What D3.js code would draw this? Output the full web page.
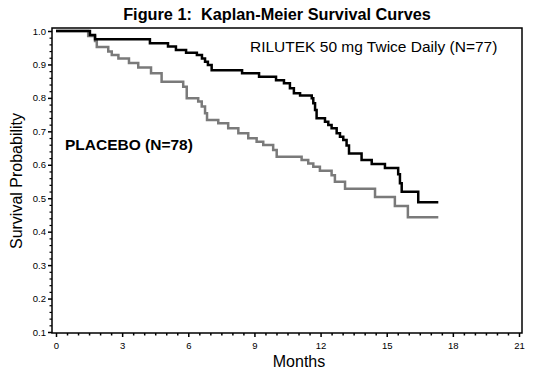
<!DOCTYPE html>
<html><head><meta charset="utf-8">
<script src="https://cdn.jsdelivr.net/npm/d3@7"></script>
<style>body{margin:0;background:#fff}svg{display:block}text{font-family:"Liberation Sans",Arial,sans-serif}</style>
</head><body><svg id="c" width="533" height="376"></svg>
<script>
const rilutekTimes = [0,1.54,1.77,4.26,5.08,5.44,5.90,6.39,6.62,6.76,6.89,7.06,8.44,9.21,9.98,10.34,10.61,10.79,11.07,11.60,11.67,11.75,11.82,12.20,12.35,12.50,12.73,12.88,13.03,13.18,13.29,13.86,14.32,14.92,15.52,15.60,15.68,16.43,17.34];
const rilutekSurv  = [1.0,0.988,0.975,0.963,0.954,0.943,0.935,0.928,0.918,0.908,0.898,0.883,0.874,0.863,0.853,0.844,0.829,0.814,0.807,0.799,0.784,0.764,0.739,0.729,0.719,0.709,0.694,0.684,0.674,0.658,0.634,0.614,0.602,0.590,0.572,0.545,0.519,0.488,0.488];
const placeboTimes = [0,1.46,1.77,1.85,2.37,2.53,2.83,3.31,3.73,4.31,4.79,5.77,5.93,6.45,6.61,6.76,6.85,7.36,7.81,8.27,8.72,9.10,9.40,9.85,10.01,11.14,11.44,11.67,11.97,12.50,12.65,13.11,14.47,15.37,15.96,17.34];
const placeboSurv  = [1.0,0.985,0.970,0.952,0.939,0.928,0.918,0.904,0.891,0.874,0.848,0.833,0.799,0.789,0.774,0.754,0.734,0.724,0.709,0.694,0.679,0.669,0.659,0.644,0.624,0.614,0.604,0.594,0.582,0.569,0.549,0.528,0.504,0.477,0.443,0.443];
const xTicks = [0,3,6,9,12,15,18,21];
const yTicks = [0.1,0.2,0.3,0.4,0.5,0.6,0.7,0.8,0.9,1.0];

const svg = d3.select("#c");
const x = d3.scaleLinear().domain([0,21]).range([56,519]);
const y = d3.scaleLinear().domain([0.1,1.0]).range([332,31]);

// title
svg.append("text").attr("x",277).attr("y",20).attr("text-anchor","middle")
  .style("font-size","16.3px").style("font-weight","bold").style("white-space","pre")
  .text("Figure 1:  Kaplan-Meier Survival Curves");

// frame
svg.append("rect").attr("x",52).attr("y",28).attr("width",470).attr("height",305)
  .attr("fill","none").attr("stroke","#000").attr("stroke-width",1.5);

// x axis
const xAxis = d3.axisBottom(x).tickValues(xTicks).tickSize(4).tickPadding(5).tickFormat(d3.format("d"));
const gx = svg.append("g").attr("transform","translate(0,333)").call(xAxis);
gx.select(".domain").remove();
gx.selectAll("line").attr("stroke-width",1.5);
gx.selectAll("text").style("font-size","9.5px").style("font-family","'Liberation Sans',Arial,sans-serif");
const gxm = svg.append("g").attr("transform","translate(0,333)").call(
  d3.axisBottom(x).tickValues(d3.range(0,21.01,0.5).filter(v=>v%3!==0)).tickSize(2.5).tickFormat(""));
gxm.select(".domain").remove();
gxm.selectAll("line").attr("stroke-width",1.5);

// y axis
const yAxis = d3.axisLeft(y).tickValues(yTicks).tickSize(4).tickPadding(2).tickFormat(d3.format(".1f"));
const gy = svg.append("g").attr("transform","translate(52,0)").call(yAxis);
gy.select(".domain").remove();
gy.selectAll("line").attr("stroke-width",1.5);
gy.selectAll("text").style("font-size","9.5px").style("font-family","'Liberation Sans',Arial,sans-serif");
const gym = svg.append("g").attr("transform","translate(52,0)").call(
  d3.axisLeft(y).tickValues(d3.range(10,101,2).filter(v=>v%10!==0).map(v=>v/100)).tickSize(2.5).tickFormat(""));
gym.select(".domain").remove();
gym.selectAll("line").attr("stroke-width",1.2);

// axis titles
svg.append("text").attr("transform","translate(22,181) rotate(-90)").attr("text-anchor","middle")
  .style("font-size","16px").text("Survival Probability");
svg.append("text").attr("x",299).attr("y",367).attr("text-anchor","middle")
  .style("font-size","16px").text("Months");

// curves
const line = d3.line().x(d=>x(d[0])).y(d=>y(d[1])).curve(d3.curveStepAfter);
const pl = placeboTimes.map((t,i)=>[t,placeboSurv[i]]);
const ri = rilutekTimes.map((t,i)=>[t,rilutekSurv[i]]);
svg.append("path").attr("d",line(pl)).attr("fill","none").attr("stroke","#7a7a7a").attr("stroke-width",2.5);
svg.append("path").attr("d",line(ri)).attr("fill","none").attr("stroke","#000").attr("stroke-width",2.5);

// labels
svg.append("text").attr("x",250).attr("y",52).style("font-size","15.5px").text("RILUTEK 50 mg Twice Daily (N=77)");
svg.append("text").attr("x",65).attr("y",150).style("font-size","15.5px").style("font-weight","bold").text("PLACEBO (N=78)");
</script></body></html>
